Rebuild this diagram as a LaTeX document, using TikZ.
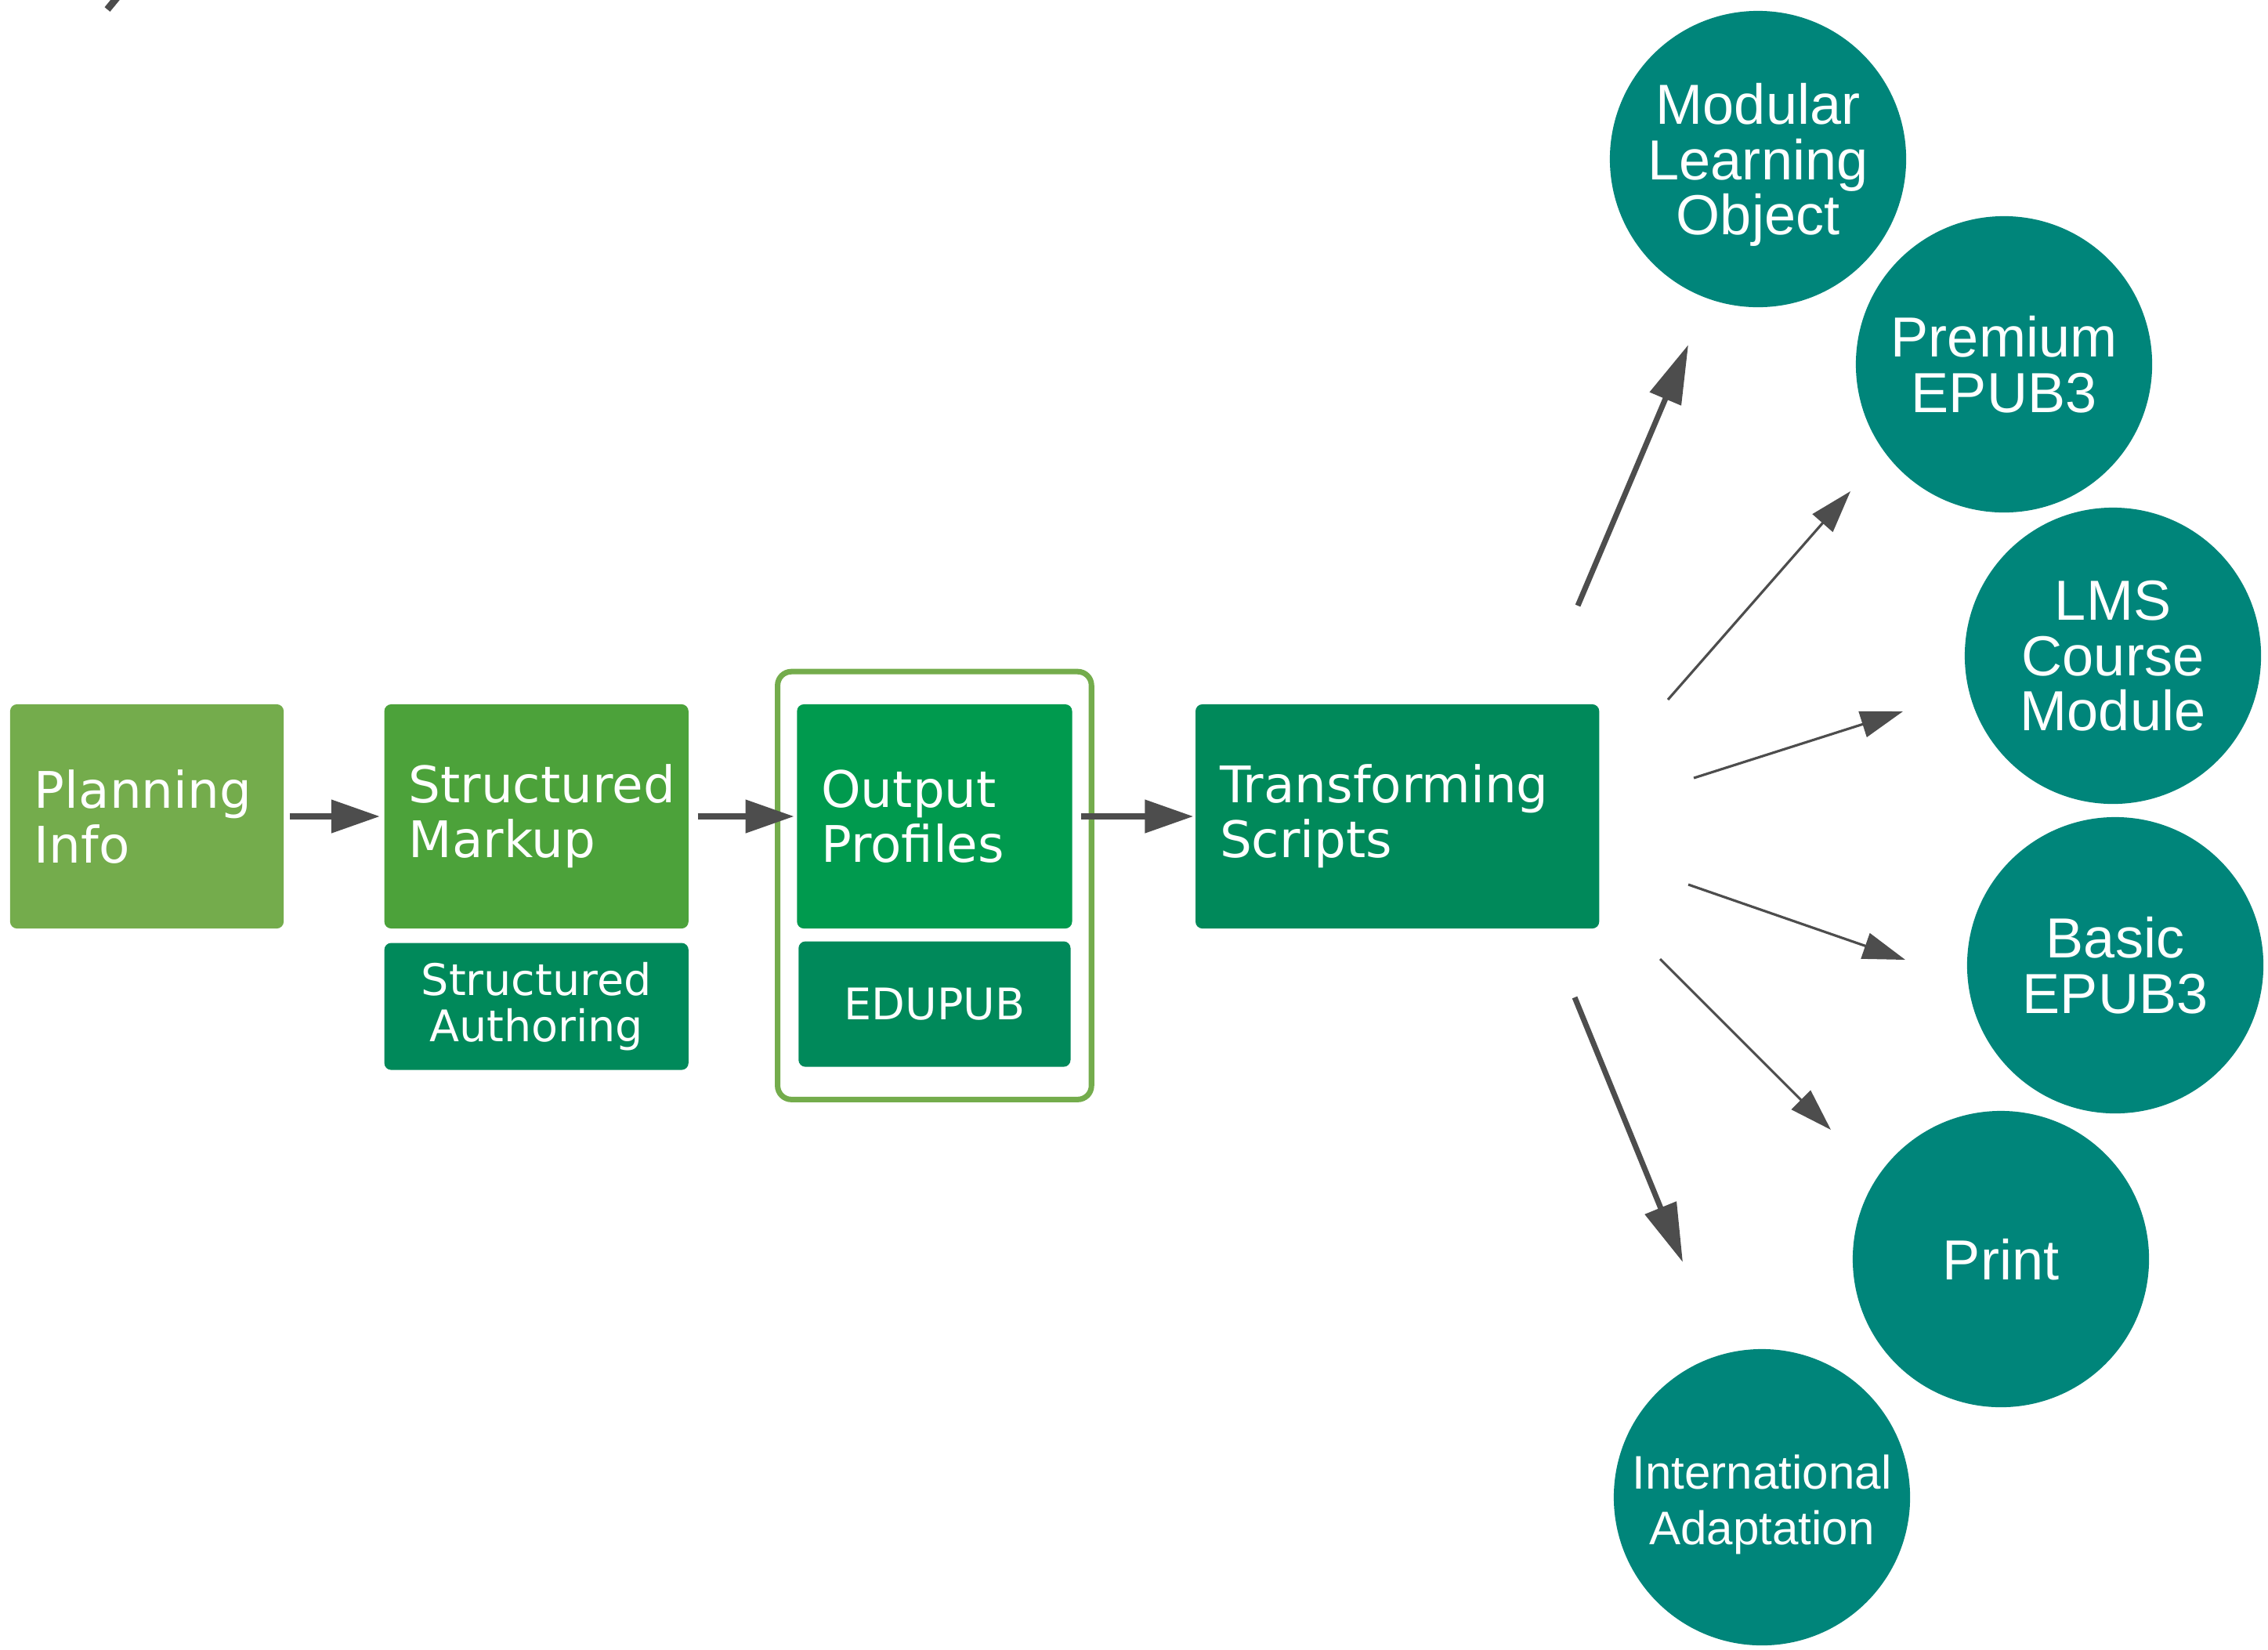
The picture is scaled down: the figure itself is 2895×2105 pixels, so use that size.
\documentclass[tikz,border=0pt]{standalone}
\usepackage{fontspec}
\setmainfont{DejaVu Sans}
\newfontfamily\circfont{Liberation Sans}
\usetikzlibrary{positioning, fit, arrows.meta, calc}
\definecolor{plangreen}{HTML}{74AC4C}
\definecolor{markgreen}{HTML}{4CA23A}
\definecolor{profgreen}{HTML}{009A4E}
\definecolor{darkgreen}{HTML}{00895A}
\definecolor{tealgreen}{HTML}{00857A}
\definecolor{arrowgray}{HTML}{4D4D4D}

\begin{document}
\begin{tikzpicture}[x=0.01cm, y=-0.01cm]
	\tikzstyle{stage}=[rounded corners=2.5pt, minimum height=2.86cm, inner xsep=0.31cm, inner ysep=0pt, text=white, align=left, font=\fontsize{18.3}{19.9}\selectfont]
	\tikzstyle{substage}=[rounded corners=2.5pt, inner sep=0pt, text=white, align=center, font=\fontsize{15.8}{16.8}\selectfont]
	\tikzstyle{target}=[circle, fill=tealgreen, minimum size=3.78cm, inner sep=0pt, text depth=0pt, text=white, align=center, font=\circfont\fontsize{20.5}{20}\selectfont]
	\tikzstyle{flow}=[draw=arrowgray, line width=2.2pt, -{Triangle[length=0.62cm, width=0.41cm]}]
	\tikzstyle{fanthick}=[draw=arrowgray, line width=2pt, -{Triangle[length=0.75cm, width=0.42cm]}]
	\tikzstyle{fanthin}=[draw=arrowgray, line width=0.9pt, -{Triangle[length=0.54cm, width=0.34cm]}]
	
	\useasboundingbox (0,0) rectangle (2895,2105);
	
	%% stray mark at the top
	\draw [arrowgray, line width=0.09cm] (151,-5) -- (137,12);
	
	%% stages
	\node [stage, fill=plangreen, text width=2.87cm] (plan) at (187.5,1042) {Planning\\Info};
	\node [stage, fill=markgreen, text width=3.26cm, right=1.27cm of plan] (markup) {Structured\\Markup};
	\node [substage, fill=darkgreen, minimum width=3.88cm, minimum height=1.62cm, below=0.17cm of markup] (author) {Structured\\Authoring};
	
	\node [stage, fill=profgreen, text width=2.89cm, right=1.37cm of markup] (outp) {Output\\Profiles};
	\node [substage, fill=darkgreen, minimum width=3.47cm, minimum height=1.60cm, below=0.15cm of outp] (edupub) {EDUPUB};
	\node [draw=plangreen, line width=2pt, rounded corners=5pt, inner xsep=0.24cm, inner ysep=0.41cm, fit=(outp)(edupub)] (profframe) {};
	
	\node [stage, fill=darkgreen, text width=4.53cm, right=1.56cm of outp] (trans) {Transforming\\Scripts};
	
	\draw [flow, shorten <=0.07cm, shorten >=0.05cm] (plan) -- (markup);
	\draw [flow, shorten <=0.11cm, shorten >=0.03cm] (markup) -- (outp);
	\draw [flow, shorten <=0.11cm, shorten >=0.02cm] (outp) -- (trans);
	
	%% outputs
	\node [target] (mlo) at (2244,203) {Modular\\Learning\\Object};
	\node [target] (prem) at (2558,465) {Premium\\EPUB3};
	\node [target] (lms) at (2697,837) {LMS\\Course\\Module};
	\node [target] (basic) at (2700,1232) {Basic\\EPUB3};
	\node [target] (print) at (2554,1607) {Print};
	\node [target, font=\circfont\fontsize{17.1}{20}\selectfont, text height=1.2cm] (intl) at (2249,1911) {International\\Adaptation};
	
	%% fan of arrows
	\coordinate (mlo-from) at (2014,773);   \coordinate (mlo-to) at (2155,440);
	\coordinate (prem-from) at (2129,893);  \coordinate (prem-to) at (2362,627);
	\coordinate (lms-from) at (2162,993);   \coordinate (lms-to) at (2429,908);
	\coordinate (basic-from) at (2155,1129); \coordinate (basic-to) at (2432,1225);
	\coordinate (print-from) at (2119,1224); \coordinate (print-to) at (2337,1442);
	\coordinate (intl-from) at (2010,1273); \coordinate (intl-to) at (2148,1611);
	
	\foreach \x/\y in {mlo/fanthick, prem/fanthin, lms/fanthin, basic/fanthin, print/fanthin, intl/fanthick}
		\draw [\y] (\x-from) -- (\x-to);
\end{tikzpicture}
\end{document}
